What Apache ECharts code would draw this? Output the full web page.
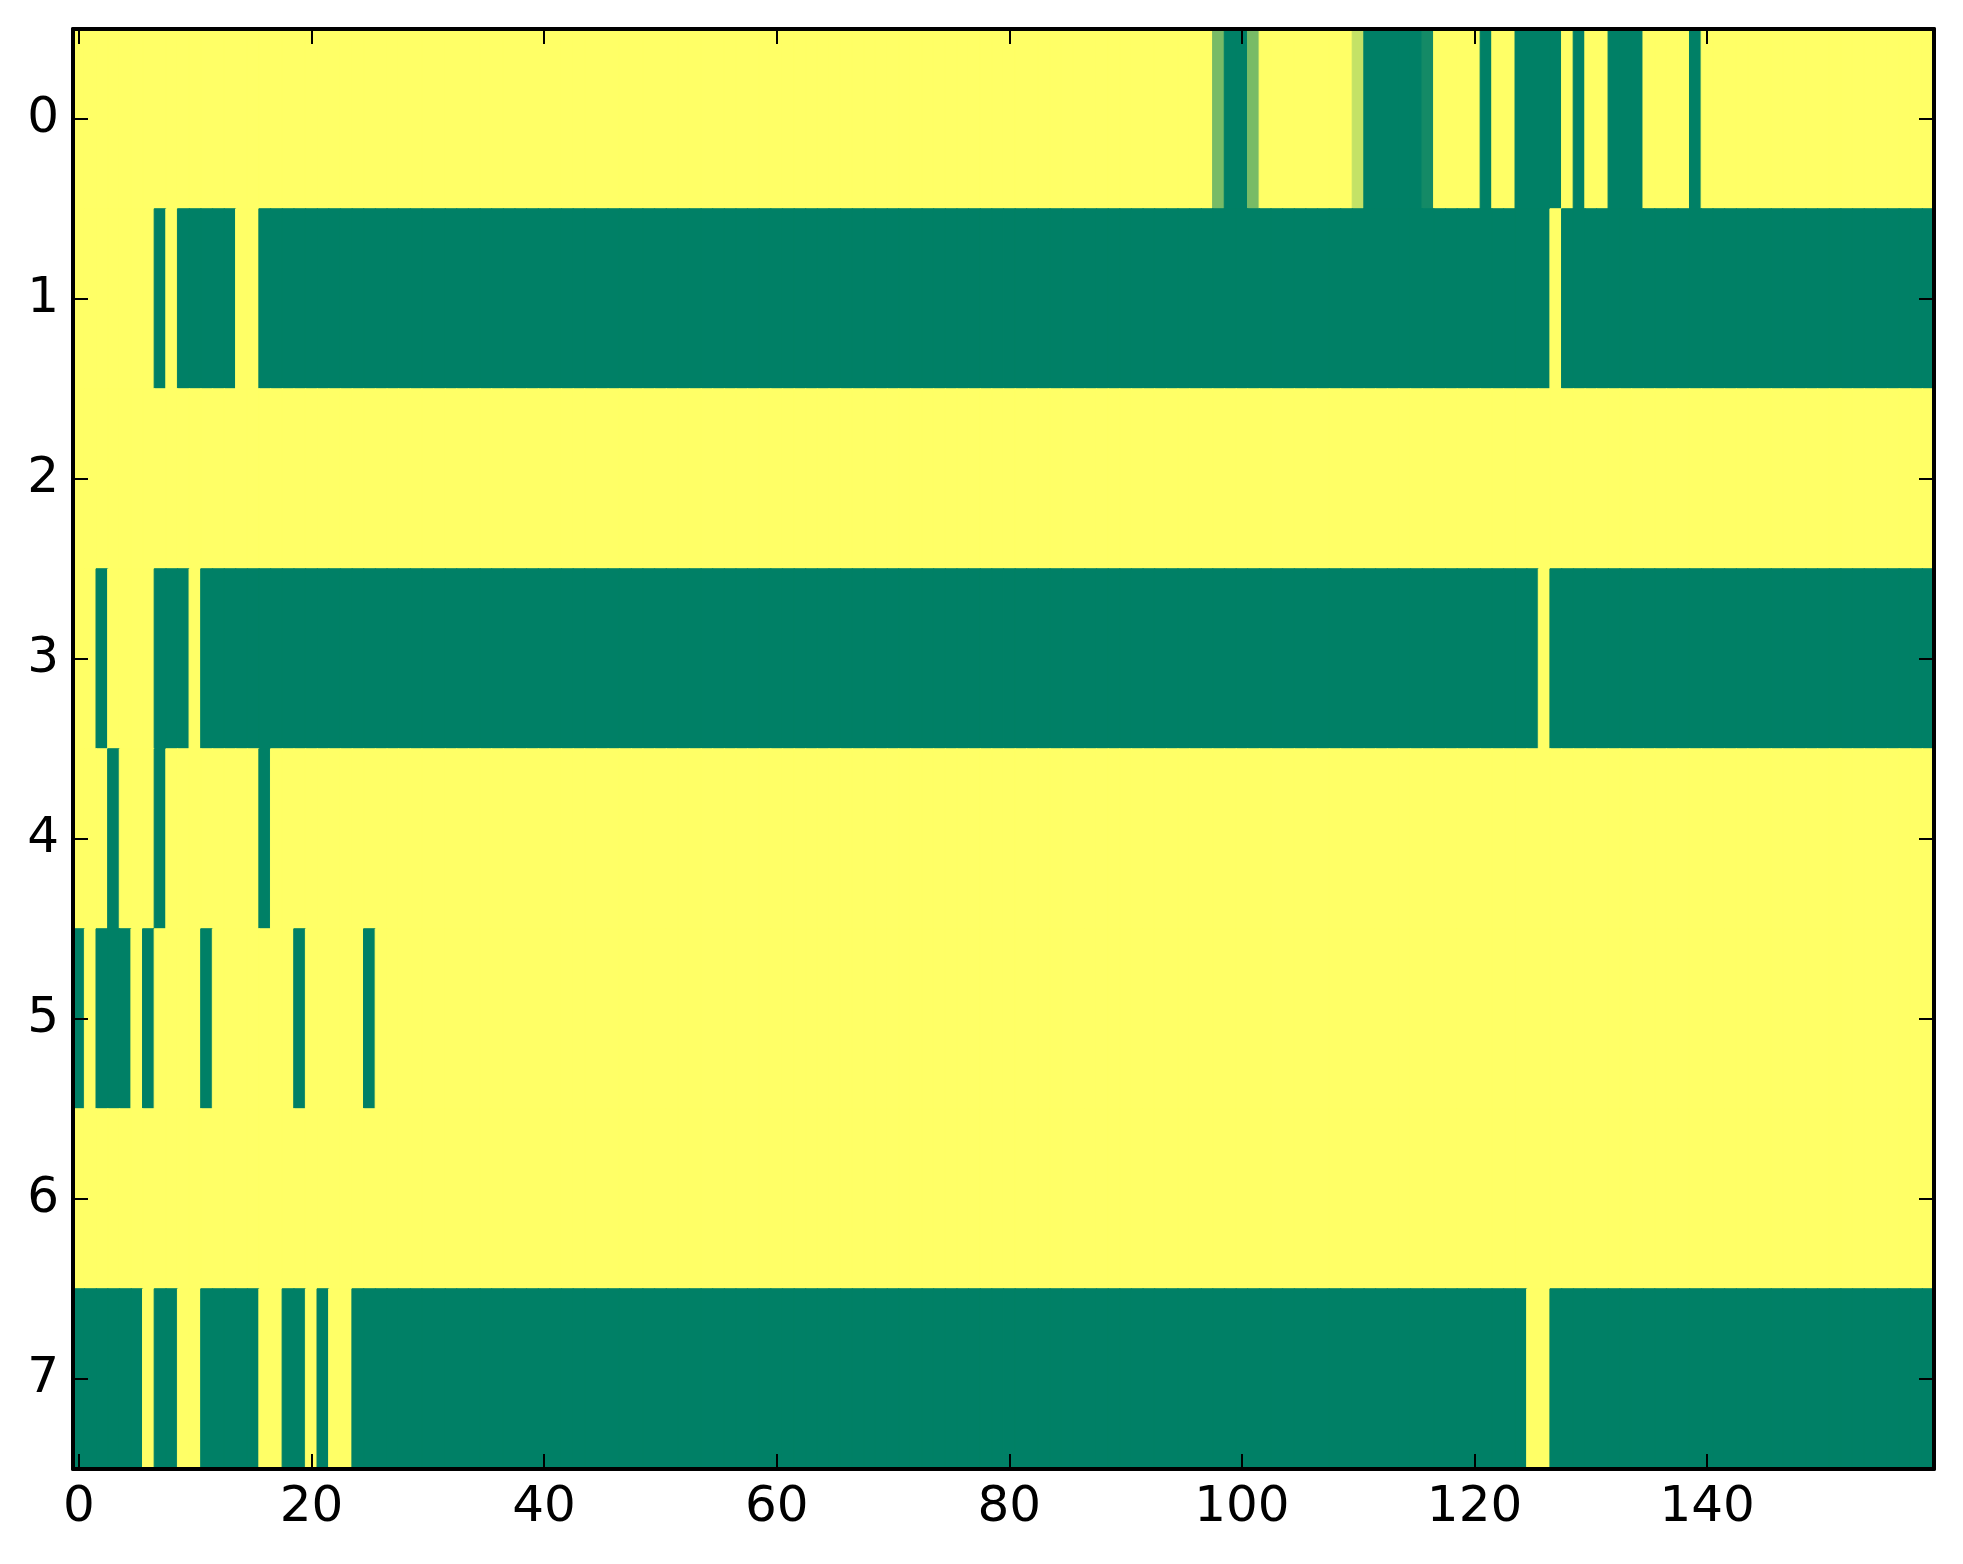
<!DOCTYPE html>
<html><head><meta charset="utf-8">
<script src="https://cdn.jsdelivr.net/npm/echarts@6/dist/echarts.min.js"></script>
<style>html,body{margin:0;padding:0;background:#fff}#c{width:1963px;height:1564px}</style>
</head><body><div id="c"></div>
<script>
// column categories 0..159 and row labels 0..7
const xCategories = [];
for (let i = 0; i < 160; i++) xCategories.push(String(i));
const rowLabels = ['0', '1', '2', '3', '4', '5', '6', '7'];
const xTickStep = 20;

// values per row (1 = yellow, 0 = green), 20 values per line
const row0 = [
  1,1,1,1,1,1,1,1,1,1,1,1,1,1,1,1,1,1,1,1,
  1,1,1,1,1,1,1,1,1,1,1,1,1,1,1,1,1,1,1,1,
  1,1,1,1,1,1,1,1,1,1,1,1,1,1,1,1,1,1,1,1,
  1,1,1,1,1,1,1,1,1,1,1,1,1,1,1,1,1,1,1,1,
  1,1,1,1,1,1,1,1,1,1,1,1,1,1,1,1,1,1,0.47,0,
  0,0.47,1,1,1,1,1,1,1,1,0.77,0,0,0,0,0,0.08,1,1,1,
  1,0,1,1,0,0,0,0,1,0,1,1,0,0,0,1,1,1,1,0,
  1,1,1,1,1,1,1,1,1,1,1,1,1,1,1,1,1,1,1,1
];
const row1 = [
  1,1,1,1,1,1,1,0,1,0,0,0,0,0,1,1,0,0,0,0,
  0,0,0,0,0,0,0,0,0,0,0,0,0,0,0,0,0,0,0,0,
  0,0,0,0,0,0,0,0,0,0,0,0,0,0,0,0,0,0,0,0,
  0,0,0,0,0,0,0,0,0,0,0,0,0,0,0,0,0,0,0,0,
  0,0,0,0,0,0,0,0,0,0,0,0,0,0,0,0,0,0,0,0,
  0,0,0,0,0,0,0,0,0,0,0,0,0,0,0,0,0,0,0,0,
  0,0,0,0,0,0,0,1,0,0,0,0,0,0,0,0,0,0,0,0,
  0,0,0,0,0,0,0,0,0,0,0,0,0,0,0,0,0,0,0,0
];
const row2 = [
  1,1,1,1,1,1,1,1,1,1,1,1,1,1,1,1,1,1,1,1,
  1,1,1,1,1,1,1,1,1,1,1,1,1,1,1,1,1,1,1,1,
  1,1,1,1,1,1,1,1,1,1,1,1,1,1,1,1,1,1,1,1,
  1,1,1,1,1,1,1,1,1,1,1,1,1,1,1,1,1,1,1,1,
  1,1,1,1,1,1,1,1,1,1,1,1,1,1,1,1,1,1,1,1,
  1,1,1,1,1,1,1,1,1,1,1,1,1,1,1,1,1,1,1,1,
  1,1,1,1,1,1,1,1,1,1,1,1,1,1,1,1,1,1,1,1,
  1,1,1,1,1,1,1,1,1,1,1,1,1,1,1,1,1,1,1,1
];
const row3 = [
  1,1,0,1,1,1,1,0,0,0,1,0,0,0,0,0,0,0,0,0,
  0,0,0,0,0,0,0,0,0,0,0,0,0,0,0,0,0,0,0,0,
  0,0,0,0,0,0,0,0,0,0,0,0,0,0,0,0,0,0,0,0,
  0,0,0,0,0,0,0,0,0,0,0,0,0,0,0,0,0,0,0,0,
  0,0,0,0,0,0,0,0,0,0,0,0,0,0,0,0,0,0,0,0,
  0,0,0,0,0,0,0,0,0,0,0,0,0,0,0,0,0,0,0,0,
  0,0,0,0,0,0,1,0,0,0,0,0,0,0,0,0,0,0,0,0,
  0,0,0,0,0,0,0,0,0,0,0,0,0,0,0,0,0,0,0,0
];
const row4 = [
  1,1,1,0,1,1,1,0,1,1,1,1,1,1,1,1,0,1,1,1,
  1,1,1,1,1,1,1,1,1,1,1,1,1,1,1,1,1,1,1,1,
  1,1,1,1,1,1,1,1,1,1,1,1,1,1,1,1,1,1,1,1,
  1,1,1,1,1,1,1,1,1,1,1,1,1,1,1,1,1,1,1,1,
  1,1,1,1,1,1,1,1,1,1,1,1,1,1,1,1,1,1,1,1,
  1,1,1,1,1,1,1,1,1,1,1,1,1,1,1,1,1,1,1,1,
  1,1,1,1,1,1,1,1,1,1,1,1,1,1,1,1,1,1,1,1,
  1,1,1,1,1,1,1,1,1,1,1,1,1,1,1,1,1,1,1,1
];
const row5 = [
  0,1,0,0,0,1,0,1,1,1,1,0,1,1,1,1,1,1,1,0,
  1,1,1,1,1,0,1,1,1,1,1,1,1,1,1,1,1,1,1,1,
  1,1,1,1,1,1,1,1,1,1,1,1,1,1,1,1,1,1,1,1,
  1,1,1,1,1,1,1,1,1,1,1,1,1,1,1,1,1,1,1,1,
  1,1,1,1,1,1,1,1,1,1,1,1,1,1,1,1,1,1,1,1,
  1,1,1,1,1,1,1,1,1,1,1,1,1,1,1,1,1,1,1,1,
  1,1,1,1,1,1,1,1,1,1,1,1,1,1,1,1,1,1,1,1,
  1,1,1,1,1,1,1,1,1,1,1,1,1,1,1,1,1,1,1,1
];
const row6 = [
  1,1,1,1,1,1,1,1,1,1,1,1,1,1,1,1,1,1,1,1,
  1,1,1,1,1,1,1,1,1,1,1,1,1,1,1,1,1,1,1,1,
  1,1,1,1,1,1,1,1,1,1,1,1,1,1,1,1,1,1,1,1,
  1,1,1,1,1,1,1,1,1,1,1,1,1,1,1,1,1,1,1,1,
  1,1,1,1,1,1,1,1,1,1,1,1,1,1,1,1,1,1,1,1,
  1,1,1,1,1,1,1,1,1,1,1,1,1,1,1,1,1,1,1,1,
  1,1,1,1,1,1,1,1,1,1,1,1,1,1,1,1,1,1,1,1,
  1,1,1,1,1,1,1,1,1,1,1,1,1,1,1,1,1,1,1,1
];
const row7 = [
  0,0,0,0,0,0,1,0,0,1,1,0,0,0,0,0,1,1,0,0,
  1,0,1,1,0,0,0,0,0,0,0,0,0,0,0,0,0,0,0,0,
  0,0,0,0,0,0,0,0,0,0,0,0,0,0,0,0,0,0,0,0,
  0,0,0,0,0,0,0,0,0,0,0,0,0,0,0,0,0,0,0,0,
  0,0,0,0,0,0,0,0,0,0,0,0,0,0,0,0,0,0,0,0,
  0,0,0,0,0,0,0,0,0,0,0,0,0,0,0,0,0,0,0,0,
  0,0,0,0,0,1,1,0,0,0,0,0,0,0,0,0,0,0,0,0,
  0,0,0,0,0,0,0,0,0,0,0,0,0,0,0,0,0,0,0,0
];

const rows = [row0, row1, row2, row3, row4, row5, row6, row7];

// 'summer' colour map: green (0) -> yellow (1)
function summer(v) {
  const r = Math.round(255 * v);
  const g = Math.round(255 * (0.5 + 0.5 * v));
  return 'rgb(' + r + ',' + g + ',102)';
}

const cells = [];
rows.forEach((r, y) => r.forEach((v, x) => {
  const c = summer(v);
  cells.push({ value: [x, y, v], itemStyle: { color: c, borderColor: c, borderWidth: 1 } });
}));

const showTick = (i) => i % xTickStep === 0;
const FONT = 'DejaVu Sans';
const spine = { show: true, lineStyle: { color: '#000', width: 4 } };
const tickStyle = { color: '#000', width: 2 };

const chart = echarts.init(document.getElementById('c'), null, { renderer: 'canvas' });
chart.setOption({
  animation: false,
  backgroundColor: '#fff',
  grid: { left: 73, right: 29, top: 29, bottom: 95, containLabel: false },
  xAxis: [
    { type: 'category', data: xCategories, position: 'bottom', z: 10,
      axisLine: spine,
      axisTick: { show: true, inside: true, length: 15, alignWithLabel: true, interval: showTick, lineStyle: tickStyle },
      axisLabel: { show: true, interval: showTick, fontSize: 50, fontFamily: FONT, color: '#000', margin: 14 },
      splitLine: { show: false } },
    { type: 'category', data: xCategories, position: 'top', z: 10,
      axisLine: spine,
      axisTick: { show: true, inside: true, length: 15, alignWithLabel: true, interval: showTick, lineStyle: tickStyle },
      axisLabel: { show: false },
      splitLine: { show: false } }
  ],
  yAxis: [
    { type: 'category', data: rowLabels, inverse: true, position: 'left', z: 10,
      axisLine: spine,
      axisTick: { show: true, inside: true, length: 15, alignWithLabel: true, interval: 0, lineStyle: tickStyle },
      axisLabel: { show: true, interval: 0, fontSize: 50, fontFamily: FONT, color: '#000', margin: 14 },
      splitLine: { show: false } },
    { type: 'category', data: rowLabels, inverse: true, position: 'right', z: 10,
      axisLine: spine,
      axisTick: { show: true, inside: true, length: 15, alignWithLabel: true, interval: 0, lineStyle: tickStyle },
      axisLabel: { show: false },
      splitLine: { show: false } }
  ],
  series: [{
    type: 'heatmap', xAxisIndex: 0, yAxisIndex: 0, data: cells,
    progressive: 0, emphasis: { disabled: true }
  }]
});
</script>
</body></html>
